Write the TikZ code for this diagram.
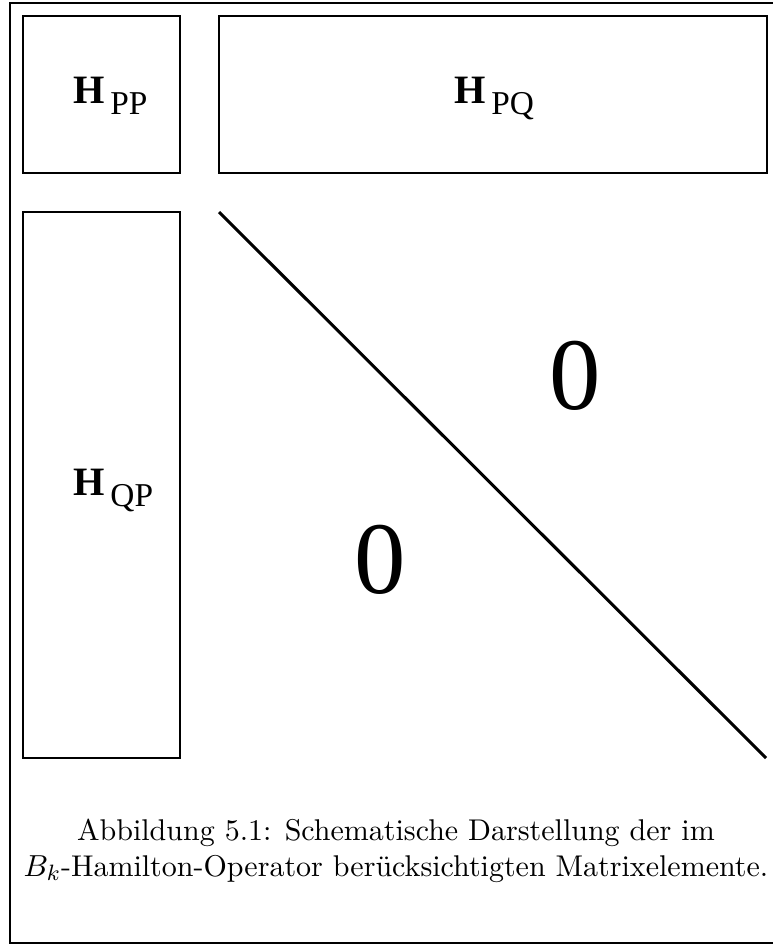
\documentclass[tikz,border=0pt]{standalone}
\usepackage{fontspec}
\newfontfamily\timesf{Liberation Serif}
\begin{document}
\begin{tikzpicture}[x=0.36pt,y=-0.36pt,
  frame/.style={line width=0.9pt},
  blockbox/.style={line width=0.5pt},
  diag/.style={line width=1.1pt},
  hlabel/.style={anchor=base west, inner sep=0pt, outer sep=0pt},
  zerolabel/.style={inner sep=0pt, font=\timesf\fontsize{37}{37}\selectfont},
  captext/.style={anchor=base, inner sep=0pt, font=\fontsize{10.8}{13}\selectfont}]
\useasboundingbox (0,0) rectangle (773,945);
\draw[frame] (780,3) -- (10,3) -- (10,943) -- (780,943);
\draw[blockbox] (23,16) rectangle (180,173);
\draw[blockbox] (219,16) rectangle (767,173);
\draw[blockbox] (23,212) rectangle (180,758);
\coordinate (d1) at (219,212);
\coordinate (d2) at (766,758);
\draw[diag] (d1) -- (d2);
\newcommand{\hsub}[1]{{\timesf\fontsize{14.5}{14.5}\selectfont\bfseries H}\hspace{2.2pt}\raisebox{-4pt}{\timesf\fontsize{12}{12}\selectfont #1}}
\node[hlabel] (hpp) at (73,103) {\hsub{PP}};
\node[hlabel] (hpq) at (454,103) {\hsub{PQ}};
\node[hlabel] (hqp) at (73,495) {\hsub{QP}};
\node[zerolabel] (z1) at (575,376) {0};
\node[zerolabel] (z2) at (380,560) {0};
\node[captext] (cap1) at (396,840) {Abbildung 5.1: Schematische Darstellung der im};
\node[captext] (cap2) at (396,876) {$B_k$-Hamilton-Operator berücksichtigten Matrixelemente.};
\end{tikzpicture}
\end{document}
